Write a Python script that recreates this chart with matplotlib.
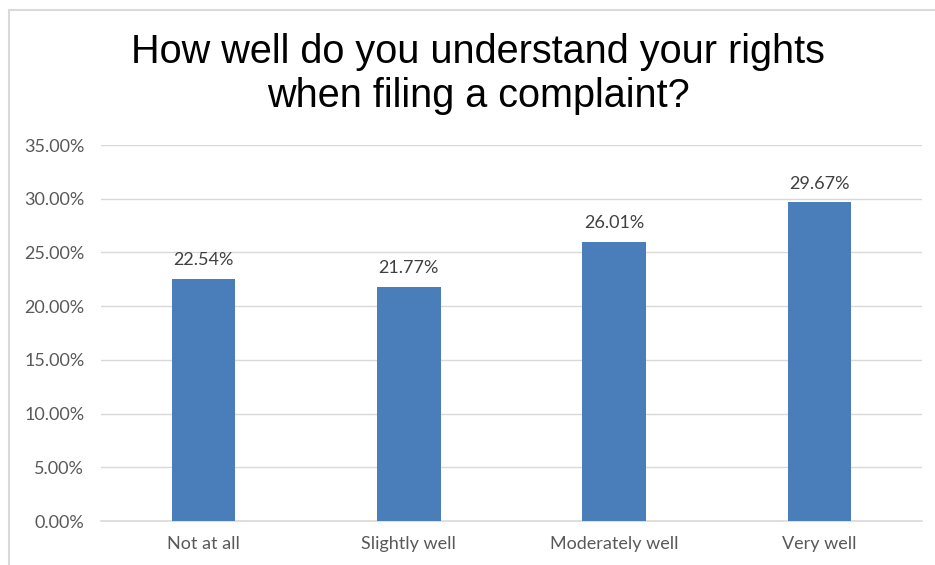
import matplotlib

matplotlib.use("Agg")
import matplotlib.pyplot as plt
from matplotlib.patches import Rectangle
from matplotlib.ticker import FuncFormatter, MultipleLocator

# Survey responses (share of respondents, %)
categories = ["Not at all", "Slightly well", "Moderately well", "Very well"]
shares = [22.54, 21.77, 26.01, 29.67]

W, H = 935, 565
fig = plt.figure(figsize=(W / 100, H / 100), dpi=100)
fig.patch.set_facecolor("white")

# light frame around the chart area
fig.patches.append(
    Rectangle((9 / W, -0.1), 1.2, 1 - 10 / H + 0.1, transform=fig.transFigure,
              fill=False, edgecolor="#d9d9d9", linewidth=1.5)
)

ax = fig.add_axes([101 / W, 1 - 521 / H, (922 - 101) / W, (521 - 145) / H])
x = range(len(categories))
ax.bar(x, shares, width=0.31, color="#4a7ebb", zorder=3)

for xi, v in zip(x, shares):
    ax.text(xi, v + 1.0, f"{v:.2f}%", ha="center", va="bottom",
            fontsize=13, color="#404040", family="Lato")

ax.set_xlim(-0.5, len(categories) - 0.5)
ax.set_ylim(0, 35)
ax.yaxis.set_major_locator(MultipleLocator(5))
ax.yaxis.set_major_formatter(FuncFormatter(lambda v, _: f"{v:.2f}%"))
ax.set_xticks(list(x))
ax.set_xticklabels(categories)
ax.grid(axis="y", color="#d9d9d9", linewidth=1, zorder=0)
for side in ["top", "right", "left"]:
    ax.spines[side].set_visible(False)
ax.spines["bottom"].set_color("#d9d9d9")
ax.spines["bottom"].set_linewidth(1.2)
ax.tick_params(axis="both", length=0, labelsize=13, labelcolor="#595959")
ax.tick_params(axis="y", pad=12)
ax.tick_params(axis="x", pad=11)
for lbl in ax.get_xticklabels() + ax.get_yticklabels():
    lbl.set_family("Lato")

fig.text(478 / W, 1 - 74 / H,
         "How well do you understand your rights\nwhen filing a complaint?",
         ha="center", va="center", fontsize=28.5, family="Liberation Sans",
         color="black", linespacing=1.17)

plt.savefig("out.png", dpi=100)
plt.close()
